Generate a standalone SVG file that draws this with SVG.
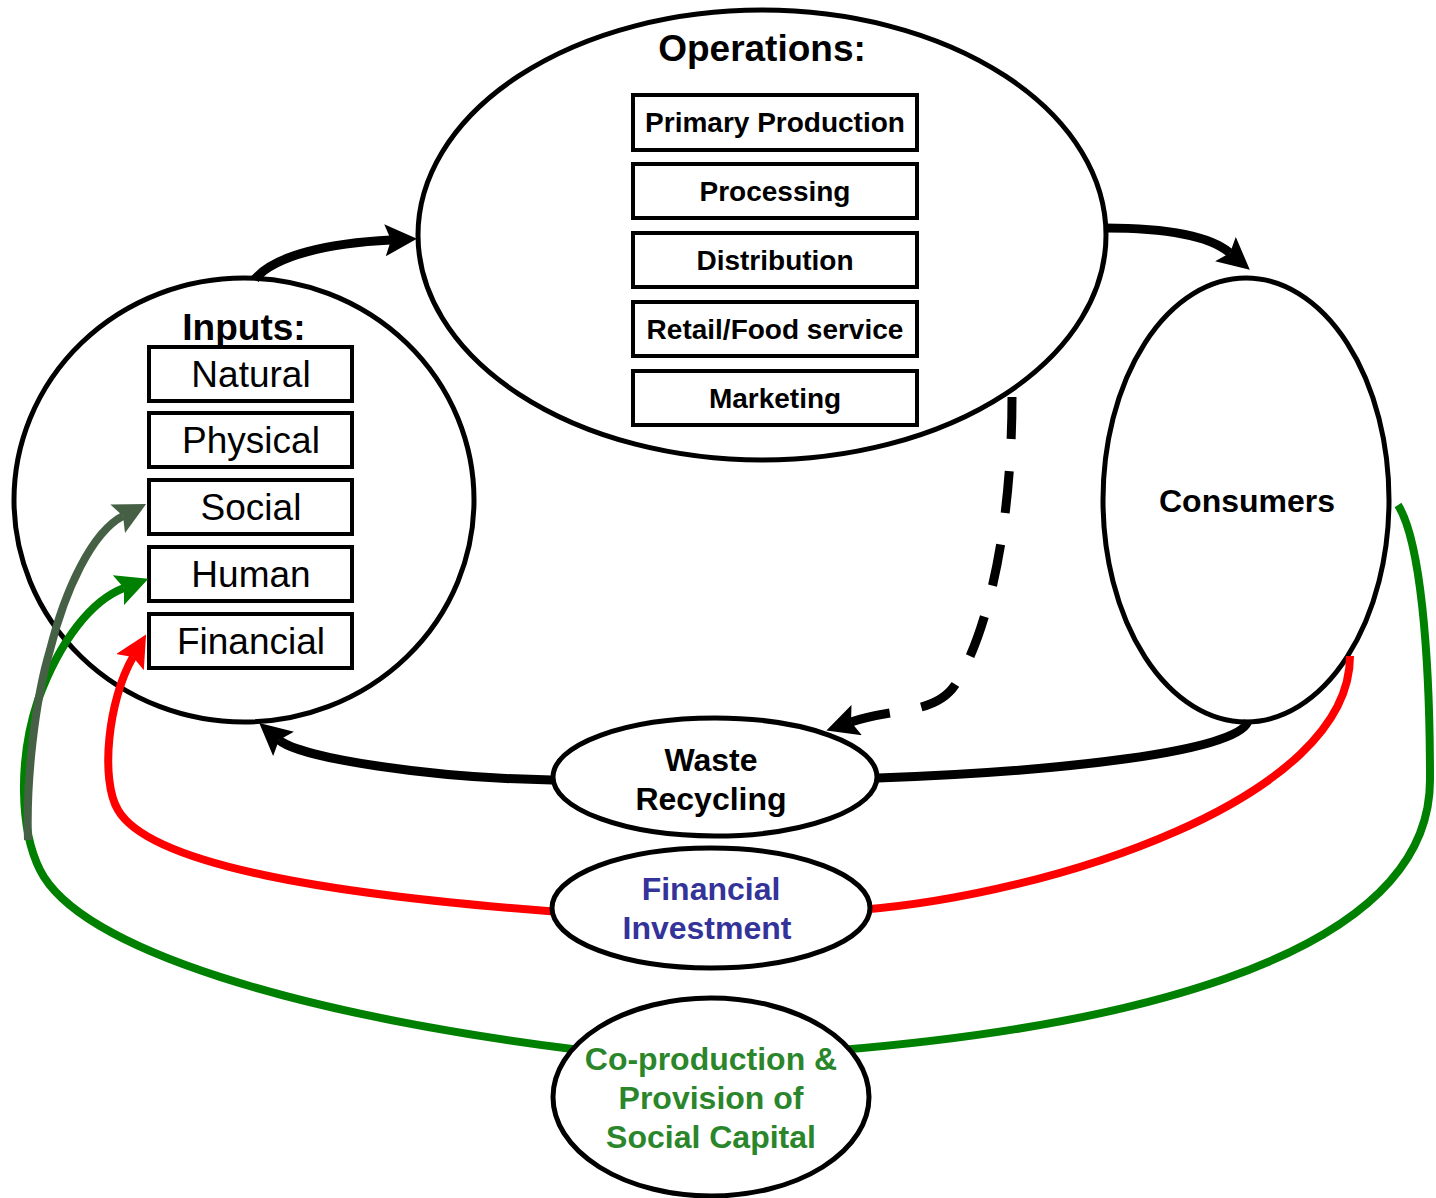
<svg xmlns="http://www.w3.org/2000/svg" width="1436" height="1198" viewBox="0 0 1436 1198">
<style>
.node{fill:#fff;stroke:#000;stroke-width:5}
.box{fill:#fff;stroke:#000;stroke-width:4}
.t{font-family:"Liberation Sans",Arial,sans-serif;text-anchor:middle}
.b{font-weight:bold}
.ops{font-size:28px;font-weight:bold}
.inp{font-size:37px}
.mid{font-size:32px;font-weight:bold}
.blk{fill:none;stroke:#000;stroke-width:9}
.col{fill:none;stroke-width:8}
</style>
<defs>
<marker id="ak" viewBox="0 0 32 32" refX="6" refY="16" markerWidth="32" markerHeight="32" markerUnits="userSpaceOnUse" orient="auto"><path d="M0,0 L32,16 L0,32 L6,16 z" fill="#000"/></marker>
<marker id="ag" viewBox="0 0 32 32" refX="6" refY="16" markerWidth="32" markerHeight="32" markerUnits="userSpaceOnUse" orient="auto"><path d="M0,0 L32,16 L0,32 L6,16 z" fill="#008000"/></marker>
<marker id="agr" viewBox="0 0 32 32" refX="6" refY="16" markerWidth="32" markerHeight="32" markerUnits="userSpaceOnUse" orient="auto"><path d="M0,0 L32,16 L0,32 L6,16 z" fill="#466046"/></marker>
<marker id="ar" viewBox="0 0 32 32" refX="6" refY="16" markerWidth="32" markerHeight="32" markerUnits="userSpaceOnUse" orient="auto"><path d="M0,0 L32,16 L0,32 L6,16 z" fill="#ff0000"/></marker>
</defs>

<g id="inputs">
<ellipse class="node" cx="244" cy="500" rx="230" ry="222"/>
<text class="t b" x="244" y="340" font-size="37">Inputs:</text>
<rect class="box" x="149" y="347" width="203" height="54"/>
<text class="t inp" x="251" y="387">Natural</text>
<rect class="box" x="149" y="413" width="203" height="54"/>
<text class="t inp" x="251" y="453">Physical</text>
<rect class="box" x="149" y="480" width="203" height="54"/>
<text class="t inp" x="251" y="520">Social</text>
<rect class="box" x="149" y="547" width="203" height="54"/>
<text class="t inp" x="251" y="587">Human</text>
<rect class="box" x="149" y="614" width="203" height="54"/>
<text class="t inp" x="251" y="654">Financial</text>
</g>

<g id="operations">
<ellipse class="node" cx="762" cy="235" rx="344" ry="225"/>
<text class="t b" x="762" y="61" font-size="37">Operations:</text>
<rect class="box" x="633" y="95" width="284" height="55"/>
<text class="t ops" x="775" y="132">Primary Production</text>
<rect class="box" x="633" y="164" width="284" height="54"/>
<text class="t ops" x="775" y="201">Processing</text>
<rect class="box" x="633" y="233" width="284" height="54"/>
<text class="t ops" x="775" y="270">Distribution</text>
<rect class="box" x="633" y="302" width="284" height="54"/>
<text class="t ops" x="775" y="339">Retail/Food service</text>
<rect class="box" x="633" y="371" width="284" height="54"/>
<text class="t ops" x="775" y="408">Marketing</text>
</g>

<g id="consumers">
<ellipse class="node" cx="1246" cy="500" rx="143" ry="222"/>
<text class="t mid" x="1247" y="512">Consumers</text>
</g>

<g id="connectors">
<path class="blk" d="M255 279 C275 255 330 243 391 240" marker-end="url(#ak)"/>
<path class="blk" d="M1105 228 C1170 228 1210 236 1230 253" marker-end="url(#ak)"/>
<path class="blk" d="M1248 720 C1245 752 1050 772 878 778 L552 780 C430 778 300 758 279 740" marker-end="url(#ak)"/>
<path class="blk" d="M1012 397 C1012 520 990 630 955 685 C935 715 895 707 851 722" stroke-dasharray="42 32" marker-end="url(#ak)"/>
<path class="col" stroke="#008000" d="M580 1050 C300 1015 80 950 40 870 C20 830 18 760 38 700 C60 640 92 600 124 588" marker-end="url(#ag)"/>
<path class="col" stroke="#008000" d="M1398 505 C1420 540 1430 650 1430 780 C1430 970 1080 1030 840 1050"/>
<path class="col" stroke="#466046" d="M28 840 C26 780 35 700 50 650 C65 590 92 532 123 516" marker-end="url(#agr)"/>
<path class="col" stroke="#ff0000" d="M560 912 C330 895 150 865 118 810 C100 780 108 700 133 657" marker-end="url(#ar)"/>
<path class="col" stroke="#ff0000" d="M1350 656 C1350 800 1050 895 860 910"/>
</g>

<g id="waste">
<ellipse class="node" cx="715" cy="777" rx="162" ry="59"/>
<text class="t mid" x="711" y="771">Waste</text>
<text class="t mid" x="711" y="810">Recycling</text>
</g>

<g id="financial-investment">
<ellipse class="node" cx="711" cy="908" rx="159" ry="60"/>
<text class="t mid" x="711" y="900" fill="#333399">Financial</text>
<text class="t mid" x="707" y="939" fill="#333399">Investment</text>
</g>

<g id="coproduction">
<ellipse class="node" cx="711" cy="1097" rx="158" ry="99"/>
<text class="t mid" x="711" y="1070" fill="#2b862b">Co-production &amp;</text>
<text class="t mid" x="711" y="1109" fill="#2b862b">Provision of</text>
<text class="t mid" x="711" y="1148" fill="#2b862b">Social Capital</text>
</g>
</svg>
